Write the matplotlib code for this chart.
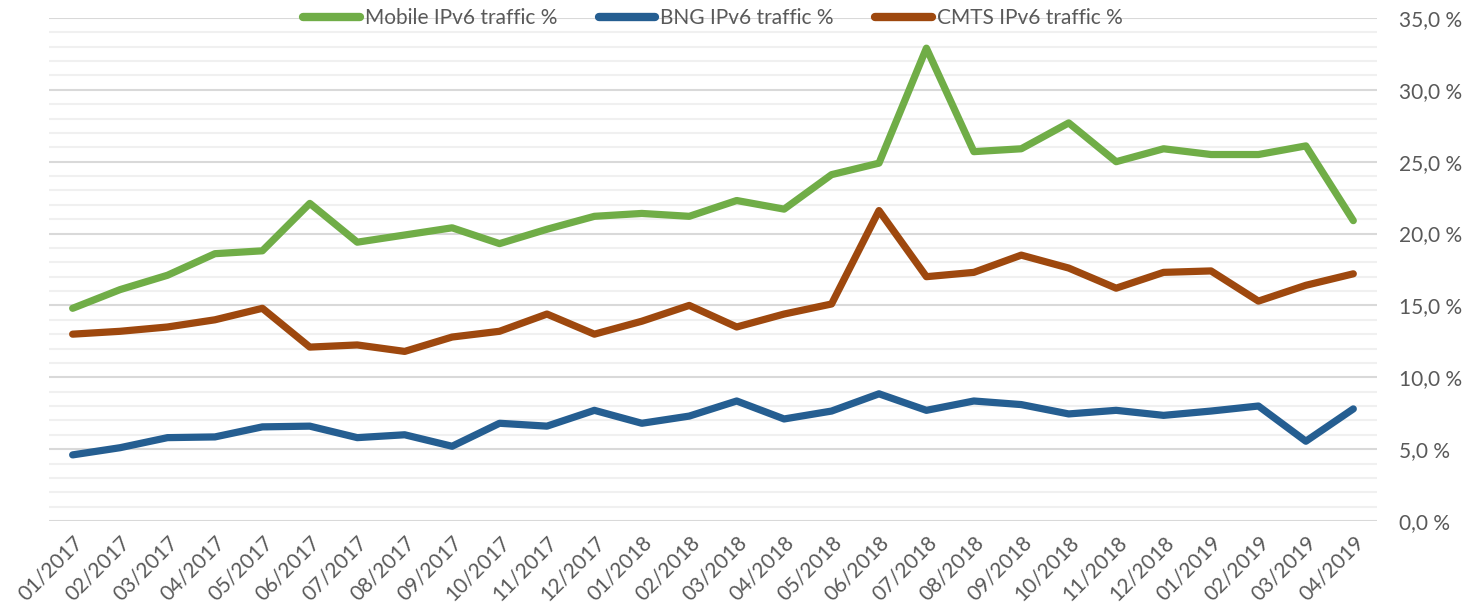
import matplotlib

matplotlib.use("Agg")
import matplotlib.pyplot as plt
from matplotlib.ticker import FuncFormatter, MultipleLocator

months = [
    "01/2017", "02/2017", "03/2017", "04/2017", "05/2017", "06/2017", "07/2017",
    "08/2017", "09/2017", "10/2017", "11/2017", "12/2017", "01/2018", "02/2018",
    "03/2018", "04/2018", "05/2018", "06/2018", "07/2018", "08/2018", "09/2018",
    "10/2018", "11/2018", "12/2018", "01/2019", "02/2019", "03/2019", "04/2019",
]
mobile = [14.8, 16.1, 17.1, 18.6, 18.8, 22.1, 19.4, 19.9, 20.4, 19.3, 20.3, 21.2,
          21.4, 21.2, 22.3, 21.7, 24.1, 24.9, 32.9, 25.7, 25.9, 27.7, 25.0, 25.9,
          25.5, 25.5, 26.1, 20.9]
bng = [4.6, 5.1, 5.8, 5.85, 6.55, 6.6, 5.8, 6.0, 5.2, 6.8, 6.6, 7.7,
       6.8, 7.3, 8.35, 7.1, 7.65, 8.85, 7.7, 8.35, 8.1, 7.45, 7.7, 7.35,
       7.65, 8.0, 5.55, 7.8]
cmts = [13.0, 13.2, 13.5, 14.0, 14.8, 12.1, 12.25, 11.8, 12.8, 13.2, 14.4, 13.0,
        13.9, 15.0, 13.5, 14.4, 15.1, 21.6, 17.0, 17.3, 18.5, 17.6, 16.2, 17.3,
        17.4, 15.3, 16.4, 17.2]

series = [
    ("Mobile IPv6 traffic %", mobile, "#70ad47"),
    ("BNG IPv6 traffic %", bng, "#255e91"),
    ("CMTS IPv6 traffic %", cmts, "#9e480e"),
]

plt.rcParams["font.family"] = ["Lato", "DejaVu Sans"]
text_color = "#595959"

fig = plt.figure(figsize=(14.74, 6.12), dpi=100)
ax = fig.add_axes([0.0332, 0.1487, 0.9010, 0.8219])

x = list(range(len(months)))
for label, vals, color in series:
    ax.plot(x, vals, color=color, lw=5.2, solid_capstyle="round",
            solid_joinstyle="round", label=label, zorder=3)

ax.set_xlim(-0.5, len(months) - 0.5)
ax.set_ylim(0, 35)
ax.yaxis.set_major_locator(MultipleLocator(5))
ax.yaxis.set_minor_locator(MultipleLocator(1))
ax.yaxis.set_major_formatter(FuncFormatter(lambda v, _: f"{v:.1f} %".replace(".", ",")))
ax.yaxis.tick_right()
ax.grid(axis="y", which="major", color="#d9d9d9", lw=1.5, zorder=1)
ax.grid(axis="y", which="minor", color="#f0f0f0", lw=1.5, zorder=0)
ax.tick_params(axis="y", which="both", length=0, pad=16, labelsize=15,
               labelcolor=text_color)

ax.set_xticks(x)
ax.set_xticklabels(months, rotation=45, ha="right", rotation_mode="anchor")
ax.tick_params(axis="x", length=0, pad=8, labelsize=15, labelcolor=text_color)

for side in ax.spines.values():
    side.set_visible(False)

leg = ax.legend(loc="center", bbox_to_anchor=(0.5, 1.0), ncol=3, frameon=False,
                fontsize=15, handlelength=2.7, handletextpad=0.25,
                columnspacing=2.0, borderaxespad=0)
for t in leg.get_texts():
    t.set_color(text_color)
for h in leg.get_lines():
    h.set_linewidth(6)
    h.set_solid_capstyle("round")

fig.savefig("out.png", dpi=100)
